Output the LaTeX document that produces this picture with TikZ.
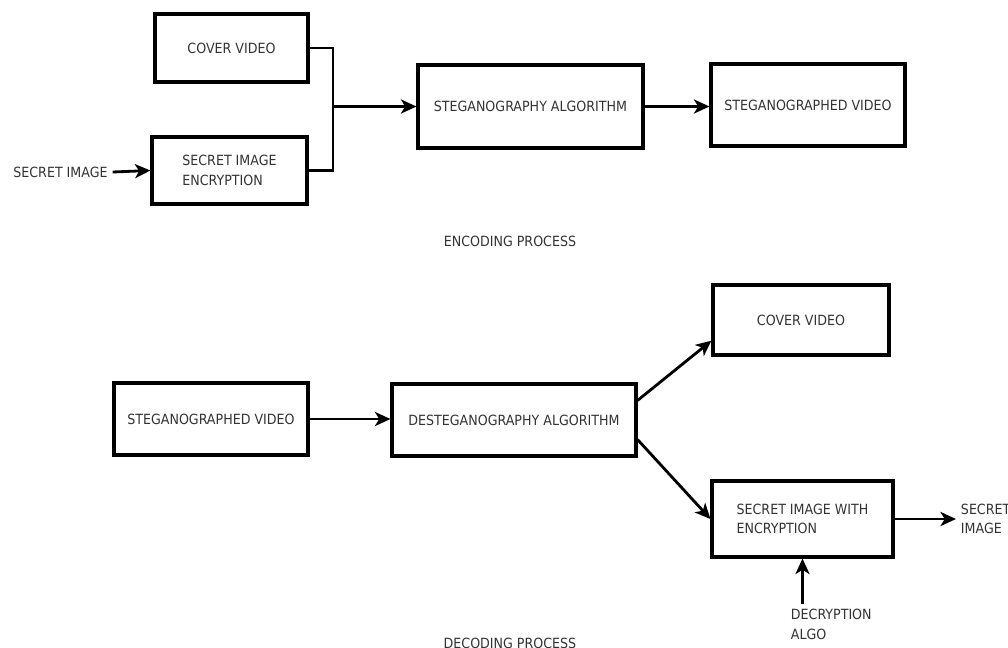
\documentclass[tikz,border=0pt]{standalone}
\usepackage{fontspec}
\setmainfont{DejaVu Sans Condensed}
\usetikzlibrary{arrows.meta}

\begin{document}
\begin{tikzpicture}[x=0.025cm, y=-0.025cm,
	every node/.style={text=black!80, font=\fontsize{10}{14}\selectfont},
	blk/.style 2 args={draw, line width=2.2pt, minimum width=#1*0.025cm, minimum height=#2*0.025cm, align=left},
	lbl/.style={align=left},
	conn/.style={line width=2pt, ->},
	>={Stealth[length=11pt, width=10pt, inset=3pt]}]
	\useasboundingbox (0,0) rectangle (1008,647);
	\node[blk={153}{68}] (cover) at (231.5,48) {COVER VIDEO};
	\node[blk={155}{67}] (encrypt) at (229.5,170.5) {SECRET IMAGE\\ENCRYPTION};
	\node (secret) at (60.5,172) {SECRET IMAGE};
	\node[blk={225}{83}] (stegalgo) at (530.5,106.5) {STEGANOGRAPHY ALGORITHM};
	\node[blk={194}{82}] (stegvid) at (808,105) {STEGANOGRAPHED VIDEO};
	\node (encproc) at (510,241) {ENCODING PROCESS};
	\coordinate (join) at (333,106.5);
	\draw[conn, -] (cover.east) -| (join) |- (encrypt.east);
	\draw[conn] (join) -- (stegalgo.west);
	\draw[conn] (secret.east) -- (encrypt.west);
	\draw[conn] (stegalgo.east) -- (stegalgo.east -| stegvid.west);
	\node[blk={194}{72}] (stegvidb) at (211,419) {STEGANOGRAPHED VIDEO};
	\node[blk={244}{72}] (destego) at (514,420) {DESTEGANOGRAPHY ALGORITHM};
	\node[blk={176}{70}] (coverb) at (801,320) {COVER VIDEO};
	\node[blk={181}{76}] (withenc) at (802.5,519) {SECRET IMAGE WITH\\ENCRYPTION};
	\node[lbl, anchor=west] (secretb) at (956,519) {SECRET\\IMAGE};
	\node[lbl, anchor=north west] (decalgo) at (786,604) {DECRYPTION\\ALGO};
	\node (decproc) at (510,643) {DECODING PROCESS};
	\draw[conn] (stegvidb.east) -- (stegvidb.east -| destego.west);
	\draw[conn] (destego.9) -- (coverb.193);
	\draw[conn] (destego.-9) -- (withenc.west);
	\draw[conn] (withenc.east) -- (secretb.west);
	\draw[conn] (decalgo.north -| withenc.south) -- (withenc.south);
\end{tikzpicture}
\end{document}
